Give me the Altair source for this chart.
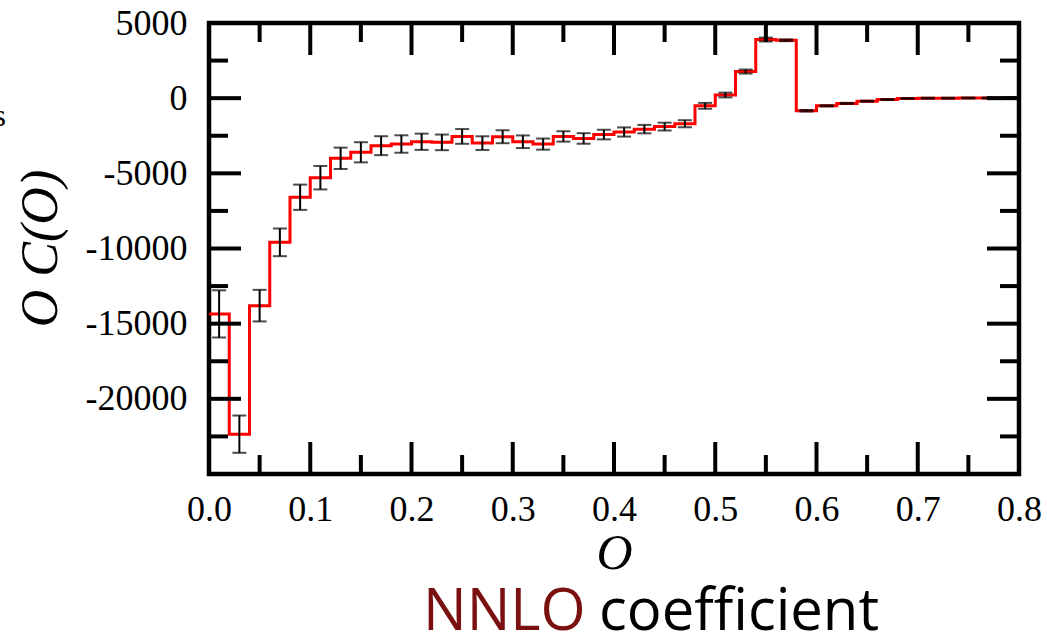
import altair as alt
import pandas as pd

# ---- data ----
bin_lo = [0.00, 0.02, 0.04, 0.06, 0.08, 0.10, 0.12, 0.14, 0.16, 0.18,
          0.20, 0.22, 0.24, 0.26, 0.28, 0.30, 0.32, 0.34, 0.36, 0.38,
          0.40, 0.42, 0.44, 0.46, 0.48, 0.50, 0.52, 0.54, 0.56, 0.58,
          0.60, 0.62, 0.64, 0.66, 0.68, 0.70, 0.72, 0.74, 0.76, 0.78]
bin_hi_last = 0.80
values = [-14350, -22350, -13800, -9590, -6590, -5290, -4000, -3600, -3160, -3050,
          -2900, -2940, -2545, -2990, -2565, -2900, -3055, -2545, -2680, -2420,
          -2250, -2060, -1890, -1700, -510, 210, 1770, 3900, 3850, -840,
          -510, -350, -200, -90, -20, 0, 0, 10, 10, 10]
errors = [1570, 1240, 1050, 920, 840, 780, 710, 670, 630, 580,
          540, 520, 490, 455, 430, 420, 370, 345, 350, 320,
          305, 280, 260, 235, 195, 160, 135, 130, 60, 50,
          40, 40, 35, 35, 30, 30, 30, 30, 30, 60]

x_major = [0.0, 0.1, 0.2, 0.3, 0.4, 0.5, 0.6, 0.7, 0.8]
x_minor = [0.05, 0.15, 0.25, 0.35, 0.45, 0.55, 0.65, 0.75]
y_major = [-20000, -15000, -10000, -5000, 0]
y_minor = [-22500, -17500, -12500, -7500, -2500, 2500]
y_labels = [-20000, -15000, -10000, -5000, 0, 5000]

W, H = 810, 451
MAJ, MIN = 32, 19

step_df = pd.DataFrame({"x": bin_lo + [bin_hi_last], "v": values + [values[-1]]})
err_df = pd.DataFrame({
    "c": [b + 0.01 for b in bin_lo],
    "lo": [v - e for v, e in zip(values, errors)],
    "hi": [v + e for v, e in zip(values, errors)],
})

xs = alt.Scale(domain=[0, 0.8], nice=False, zero=False)
ys = alt.Scale(domain=[-25000, 5000], nice=False, zero=False)

serif = "Liberation Serif"

ax_x = alt.Axis(
    values=x_major, labelExpr="format(datum.value, '.1f')", ticks=False, domain=False, grid=False,
    labelFont=serif, labelFontSize=36, labelColor="black", labelPadding=18, labelFlush=False,
    title="O", titleFont=serif, titleFontStyle="italic", titleFontWeight="normal", titleFontSize=50,
    titleColor="black", titleX=W / 2, titleY=79, titleBaseline="middle", titleAlign="center")
ax_y = alt.Axis(
    values=y_labels, labelExpr="datum.value + ''", ticks=False, domain=False, grid=False,
    labelFont=serif, labelFontSize=36, labelColor="black", labelPadding=22, labelFlush=False,
    labelBaseline="middle",
    title="O C(O)", titleFont=serif, titleFontStyle="italic", titleFontWeight="normal", titleFontSize=52,
    titleColor="black", titleX=-169, titleY=225, titleAngle=270, titleBaseline="middle",
    titleAlign="center")


def X(f):
    return alt.X(f, scale=xs, axis=ax_x)


def Y(f):
    return alt.Y(f, scale=ys, axis=ax_y)


red = alt.Chart(step_df).mark_line(interpolate="step-after", color="#ff0000", strokeWidth=3).encode(
    x=X("x:Q"), y=Y("v:Q"))

err_rule = alt.Chart(err_df).mark_rule(color="black", strokeWidth=2).encode(
    x=X("c:Q"), y=Y("lo:Q"), y2="hi:Q")
cap_lo = alt.Chart(err_df).mark_tick(orient="horizontal", size=14, thickness=2, color="black").encode(
    x=X("c:Q"), y=Y("lo:Q"))
cap_hi = alt.Chart(err_df).mark_tick(orient="horizontal", size=14, thickness=2, color="black").encode(
    x=X("c:Q"), y=Y("hi:Q"))


def xticks(vals, L):
    d = pd.DataFrame({"t": vals})
    top = alt.Chart(d).mark_rule(color="black", strokeWidth=4).encode(
        x=X("t:Q"), y=alt.value(0), y2=alt.value(L))
    bot = alt.Chart(d).mark_rule(color="black", strokeWidth=4).encode(
        x=X("t:Q"), y=alt.value(H), y2=alt.value(H - L))
    return [top, bot]


def yticks(vals, L):
    d = pd.DataFrame({"t": vals})
    left = alt.Chart(d).mark_rule(color="black", strokeWidth=4).encode(
        y=Y("t:Q"), x=alt.value(0), x2=alt.value(L))
    right = alt.Chart(d).mark_rule(color="black", strokeWidth=4).encode(
        y=Y("t:Q"), x=alt.value(W), x2=alt.value(W - L))
    return [left, right]


label_df = pd.DataFrame({"a": [0]})
nnlo = alt.Chart(label_df).mark_text(text="NNLO", font="Open Sans", fontSize=58, color="#7a1010",
                                     align="left", baseline="alphabetic").encode(
    x=alt.value(214), y=alt.value(607))
coef = alt.Chart(label_df).mark_text(text="coefficient", font="Open Sans", fontSize=58, color="black",
                                     align="left", baseline="alphabetic").encode(
    x=alt.value(390), y=alt.value(607))
frag = alt.Chart(label_df).mark_text(text="s", font=serif, fontSize=32, color="black",
                                     align="right", baseline="middle").encode(
    x=alt.value(-203), y=alt.value(93))

layers = [red, err_rule, cap_lo, cap_hi] + xticks(x_major, MAJ) + xticks(x_minor, MIN) \
    + yticks(y_major, MAJ) + yticks(y_minor, MIN) + [nnlo, coef, frag]

chart = alt.layer(*layers).properties(
    width=W, height=H,
    autosize=alt.AutoSizeParams(type="none"),
    padding={"left": 209, "top": 23, "right": 28, "bottom": 165},
    background="white",
).configure_view(stroke="black", strokeWidth=4.5)

chart.save("out.html", embed_options={"renderer": "svg", "actions": False})
